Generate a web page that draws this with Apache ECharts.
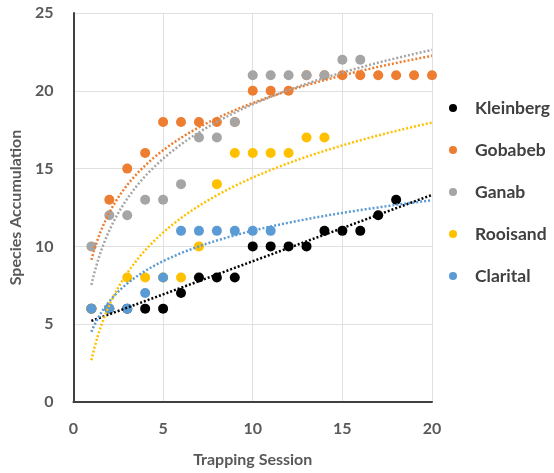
<!DOCTYPE html>
<html>
<head>
<meta charset="utf-8">
<script src="https://cdn.jsdelivr.net/npm/echarts@6/dist/echarts.min.js"></script>
<style>html,body{margin:0;padding:0;background:#fff}#c{width:554px;height:473px}</style>
</head>
<body>
<div id="c"></div>
<script>
// Session numbers start at 1 for every series
const seriesNames = ['Kleinberg', 'Gobabeb', 'Ganab', 'Rooisand', 'Clarital'];
const kleinberg = [6, 6, 6, 6, 6, 7, 8, 8, 8, 10, 10, 10, 10, 11, 11, 11, 12, 13];
const gobabeb = [6, 13, 15, 16, 18, 18, 18, 18, 18, 20, 20, 20, 21, 21, 21, 21, 21, 21, 21, 21];
const ganab = [10, 12, 12, 13, 13, 14, 17, 17, 18, 21, 21, 21, 21, 21, 22, 22];
const rooisand = [6, 6, 8, 8, 8, 8, 10, 14, 16, 16, 16, 16, 17, 17];
const clarital = [6, 6, 6, 7, 8, 11, 11, 11, 11, 11, 11];
const trendType = ['linear', 'log', 'log', 'log', 'log'];
const xTicks = [0, 5, 10, 15, 20];
const yTicks = [0, 5, 10, 15, 20, 25];

const colors = ['#000000', '#ED7D31', '#A5A5A5', '#FFC000', '#5B9BD5'];
const allData = [kleinberg, gobabeb, ganab, rooisand, clarital];

function fit(vals, type) {
  const n = vals.length;
  const xs = vals.map((v, i) => type === 'log' ? Math.log(i + 1) : (i + 1));
  const mx = xs.reduce((a, b) => a + b, 0) / n;
  const my = vals.reduce((a, b) => a + b, 0) / n;
  let sxy = 0, sxx = 0;
  for (let i = 0; i < n; i++) { sxy += (xs[i] - mx) * (vals[i] - my); sxx += (xs[i] - mx) * (xs[i] - mx); }
  const a = sxy / sxx, b = my - a * mx;
  const pts = [];
  for (let k = 0; k <= 190; k++) {
    const x = 1 + k * 0.1;
    pts.push([x, a * (type === 'log' ? Math.log(x) : x) + b]);
  }
  return pts;
}

const series = [];
allData.forEach((vals, s) => {
  series.push({
    name: seriesNames[s], type: 'scatter', symbol: 'circle', symbolSize: 10,
    itemStyle: { color: colors[s], opacity: 1 }, z: 2,
    data: vals.map((v, i) => [i + 1, v])
  });
});
allData.forEach((vals, s) => {
  series.push({
    name: seriesNames[s] + ' trend', type: 'line', showSymbol: false, silent: true, z: 3,
    lineStyle: { color: colors[s], width: 2.5, type: [2, 2] },
    data: fit(vals, trendType[s])
  });
});

const chart = echarts.init(document.getElementById('c'), null, { renderer: 'canvas' });
chart.setOption({
  animation: false,
  backgroundColor: '#fff',
  textStyle: { fontFamily: 'Lato' },
  grid: { left: 72, right: 122, top: 13, bottom: 69, containLabel: false },
  legend: {
    data: seriesNames, orient: 'vertical', left: 444, top: 94, itemGap: 24,
    icon: 'circle', itemWidth: 8, itemHeight: 8,
    textStyle: { fontSize: 17.5, fontWeight: 'bold', color: '#404040', fontFamily: 'Lato', padding: [0, 0, 0, 13] }
  },
  xAxis: {
    type: 'value', min: xTicks[0], max: xTicks[xTicks.length - 1], interval: 5,
    name: 'Trapping Session', nameLocation: 'middle', nameGap: 50,
    nameTextStyle: { fontSize: 16, fontWeight: 'bold', color: '#595959', fontFamily: 'Lato' },
    axisLine: { show: true, lineStyle: { color: '#404040', width: 2 } },
    axisTick: { show: false },
    axisLabel: { fontSize: 16, fontWeight: 'bold', color: '#595959', margin: 19 },
    splitLine: { show: true, lineStyle: { color: '#E0E0E0', width: 1 } }
  },
  yAxis: {
    type: 'value', min: yTicks[0], max: yTicks[yTicks.length - 1], interval: 5,
    name: 'Species Accumulation', nameLocation: 'middle', nameGap: 45,
    nameTextStyle: { fontSize: 16, fontWeight: 'bold', color: '#595959', fontFamily: 'Lato' },
    axisLine: { show: true, lineStyle: { color: '#404040', width: 2 } },
    axisTick: { show: false },
    axisLabel: { fontSize: 16, fontWeight: 'bold', color: '#595959', margin: 20 },
    splitLine: { show: true, lineStyle: { color: '#E0E0E0', width: 1 } }
  },
  series: series
});
</script>
</body>
</html>
